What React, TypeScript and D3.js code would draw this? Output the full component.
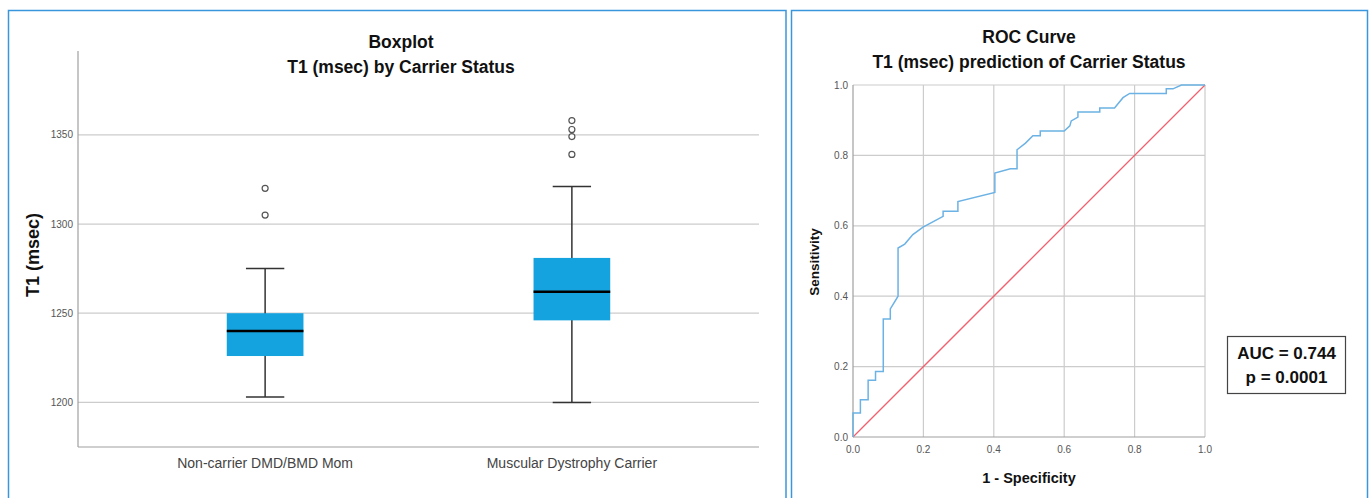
import React, { useEffect, useRef } from "react";
import * as d3 from "d3";

// boxplot data (T1 msec)
const groups = ["Non-carrier DMD/BMD Mom", "Muscular Dystrophy Carrier"];
const q1 = [1226, 1246];
const medians = [1240, 1262];
const q3 = [1250, 1281];
const whiskerLow = [1203, 1200];
const whiskerHigh = [1275, 1321];
const outliers = [
  [1305, 1320],
  [1339, 1349, 1353, 1358],
];
const boxTicks = [1200, 1250, 1300, 1350];

// ROC curve
const rocFpr = [0, 0, 0.021, 0.021, 0.043, 0.043, 0.064, 0.064, 0.086, 0.086, 0.106, 0.106, 0.128, 0.128, 0.147, 0.17, 0.199, 0.256, 0.256, 0.298, 0.298, 0.403, 0.403, 0.447, 0.466, 0.466, 0.49, 0.511, 0.532, 0.532, 0.6, 0.616, 0.62, 0.639, 0.639, 0.701, 0.701, 0.743, 0.767, 0.786, 0.89, 0.89, 0.909, 0.933, 1];
const rocTpr = [0, 0.068, 0.068, 0.106, 0.106, 0.161, 0.161, 0.186, 0.186, 0.335, 0.335, 0.364, 0.4, 0.537, 0.548, 0.575, 0.596, 0.627, 0.641, 0.641, 0.669, 0.695, 0.75, 0.762, 0.762, 0.816, 0.835, 0.856, 0.856, 0.869, 0.869, 0.884, 0.898, 0.909, 0.923, 0.923, 0.935, 0.935, 0.964, 0.976, 0.976, 0.989, 0.989, 1, 1];
const rocTicks = [0, 0.2, 0.4, 0.6, 0.8, 1];

const FONT = "'Liberation Sans', Arial, sans-serif";
const PANEL = "#3a96dc";
const GRID = "#cccccc";
const AXIS = "#a0a0a0";

export default function App() {
  const svgRef = useRef<SVGSVGElement>(null);

  useEffect(() => {
    const svg = d3.select(svgRef.current);
    svg.selectAll("*").remove();
    svg.style("font-family", FONT);

    // panels
    svg.append("rect").attr("x", 8.5).attr("y", 10.5).attr("width", 777.5).attr("height", 500)
      .attr("fill", "none").attr("stroke", PANEL).attr("stroke-width", 1.5);
    svg.append("rect").attr("x", 791.5).attr("y", 10.5).attr("width", 576).attr("height", 500)
      .attr("fill", "none").attr("stroke", PANEL).attr("stroke-width", 1.5);

    // ---------- boxplot ----------
    const left = 78, right = 759, top = 51, bottom = 447;
    const y = d3.scaleLinear().domain([1175, 1397]).range([bottom, top]);
    const x = d3.scalePoint().domain(groups).range([left, right]).padding(0.61);
    const boxW = x.step() * 0.25;

    const g = svg.append("g");
    g.selectAll("line.grid").data(boxTicks).enter().append("line")
      .attr("x1", left).attr("x2", right)
      .attr("y1", (d) => y(d)).attr("y2", (d) => y(d))
      .attr("stroke", GRID).attr("stroke-width", 1.2);
    g.selectAll("text.tick").data(boxTicks).enter().append("text")
      .attr("x", 73).attr("y", (d) => y(d) + 3.5)
      .attr("text-anchor", "end").attr("font-size", 10).attr("fill", "#555")
      .text((d) => d);
    g.append("line").attr("x1", left).attr("x2", left).attr("y1", top).attr("y2", bottom)
      .attr("stroke", AXIS).attr("stroke-width", 1.2);
    g.append("line").attr("x1", left).attr("x2", right).attr("y1", bottom).attr("y2", bottom)
      .attr("stroke", AXIS).attr("stroke-width", 1.2);

    groups.forEach((grp, i) => {
      const cx = x(grp)!;
      // whisker
      g.append("line").attr("x1", cx).attr("x2", cx)
        .attr("y1", y(whiskerHigh[i])).attr("y2", y(whiskerLow[i]))
        .attr("stroke", "#333").attr("stroke-width", 1.5);
      [whiskerHigh[i], whiskerLow[i]].forEach((v) => {
        g.append("line").attr("x1", cx - boxW / 4).attr("x2", cx + boxW / 4)
          .attr("y1", y(v)).attr("y2", y(v)).attr("stroke", "#333").attr("stroke-width", 1.5);
      });
      g.append("rect").attr("x", cx - boxW / 2).attr("width", boxW)
        .attr("y", y(q3[i])).attr("height", y(q1[i]) - y(q3[i]))
        .attr("fill", "#14a3de");
      g.append("line").attr("x1", cx - boxW / 2).attr("x2", cx + boxW / 2)
        .attr("y1", y(medians[i])).attr("y2", y(medians[i]))
        .attr("stroke", "#000").attr("stroke-width", 2.5);
      g.selectAll(null).data(outliers[i]).enter().append("circle")
        .attr("cx", cx).attr("cy", (d) => y(d)).attr("r", 3)
        .attr("fill", "#fff").attr("stroke", "#555").attr("stroke-width", 1.2);
      g.append("text").attr("x", cx).attr("y", 468).attr("text-anchor", "middle")
        .attr("font-size", 14).attr("fill", "#444").text(grp);
    });

    g.append("text").attr("transform", "translate(39,255) rotate(-90)")
      .attr("text-anchor", "middle").attr("font-size", 18).attr("font-weight", "bold")
      .attr("fill", "#111").text("T1 (msec)");
    g.append("text").attr("x", 401).attr("y", 48).attr("text-anchor", "middle")
      .attr("font-size", 17.5).attr("font-weight", "bold").attr("fill", "#111").text("Boxplot");
    g.append("text").attr("x", 401).attr("y", 73).attr("text-anchor", "middle")
      .attr("font-size", 17.5).attr("font-weight", "bold").attr("fill", "#111").text("T1 (msec) by Carrier Status");

    // ---------- ROC ----------
    const rx = d3.scaleLinear().domain([0, 1]).range([853, 1205]);
    const ry = d3.scaleLinear().domain([0, 1]).range([437, 85]);
    const r = svg.append("g");

    r.selectAll("line.vg").data(rocTicks.slice(1)).enter().append("line")
      .attr("x1", (d) => rx(d)).attr("x2", (d) => rx(d)).attr("y1", ry(0)).attr("y2", ry(1))
      .attr("stroke", GRID).attr("stroke-width", 1.2);
    r.selectAll("line.hg").data(rocTicks.slice(1)).enter().append("line")
      .attr("x1", rx(0)).attr("x2", rx(1)).attr("y1", (d) => ry(d)).attr("y2", (d) => ry(d))
      .attr("stroke", GRID).attr("stroke-width", 1.2);
    r.append("line").attr("x1", rx(0)).attr("x2", rx(0)).attr("y1", ry(0)).attr("y2", ry(1))
      .attr("stroke", AXIS).attr("stroke-width", 1.2);
    r.append("line").attr("x1", rx(0)).attr("x2", rx(1)).attr("y1", ry(0)).attr("y2", ry(0))
      .attr("stroke", AXIS).attr("stroke-width", 1.2);

    r.selectAll("text.yt").data(rocTicks).enter().append("text")
      .attr("x", 848).attr("y", (d) => ry(d) + 3.5).attr("text-anchor", "end")
      .attr("font-size", 10).attr("fill", "#555").text((d) => d3.format(".1f")(d));
    r.selectAll("text.xt").data(rocTicks).enter().append("text")
      .attr("x", (d) => rx(d)).attr("y", 453).attr("text-anchor", "middle")
      .attr("font-size", 10).attr("fill", "#555").text((d) => d3.format(".1f")(d));

    r.append("line").attr("x1", rx(0)).attr("y1", ry(0)).attr("x2", rx(1)).attr("y2", ry(1))
      .attr("stroke", "#f0606e").attr("stroke-width", 1.3);

    const line = d3.line<number>().x((d) => rx(d)).y((_, i) => ry(rocTpr[i]));
    r.append("path").attr("d", line(rocFpr)).attr("fill", "none")
      .attr("stroke", "#6cb2e4").attr("stroke-width", 1.5);

    r.append("text").attr("transform", "translate(819,262) rotate(-90)")
      .attr("text-anchor", "middle").attr("font-size", 13.5).attr("font-weight", "bold")
      .attr("fill", "#111").text("Sensitivity");
    r.append("text").attr("x", 1029).attr("y", 483).attr("text-anchor", "middle")
      .attr("font-size", 14.5).attr("font-weight", "bold").attr("fill", "#111").text("1 - Specificity");
    r.append("text").attr("x", 1029).attr("y", 43).attr("text-anchor", "middle")
      .attr("font-size", 17.5).attr("font-weight", "bold").attr("fill", "#111").text("ROC Curve");
    r.append("text").attr("x", 1029).attr("y", 68).attr("text-anchor", "middle")
      .attr("font-size", 17.5).attr("font-weight", "bold").attr("fill", "#111").text("T1 (msec) prediction of Carrier Status");

    // AUC box
    r.append("rect").attr("x", 1227.5).attr("y", 336.5).attr("width", 118).attr("height", 57)
      .attr("fill", "#fff").attr("stroke", "#444").attr("stroke-width", 1.2);
    r.append("text").attr("x", 1286.5).attr("y", 359).attr("text-anchor", "middle")
      .attr("font-size", 17).attr("font-weight", "bold").attr("fill", "#111").text("AUC = 0.744");
    r.append("text").attr("x", 1286.5).attr("y", 383).attr("text-anchor", "middle")
      .attr("font-size", 17).attr("font-weight", "bold").attr("fill", "#111").text("p = 0.0001");
  }, []);

  return (
    <svg
      ref={svgRef}
      width={1369}
      height={498}
      style={{ position: "absolute", left: 0, top: 0, display: "block", background: "#fff" }}
    />
  );
}
